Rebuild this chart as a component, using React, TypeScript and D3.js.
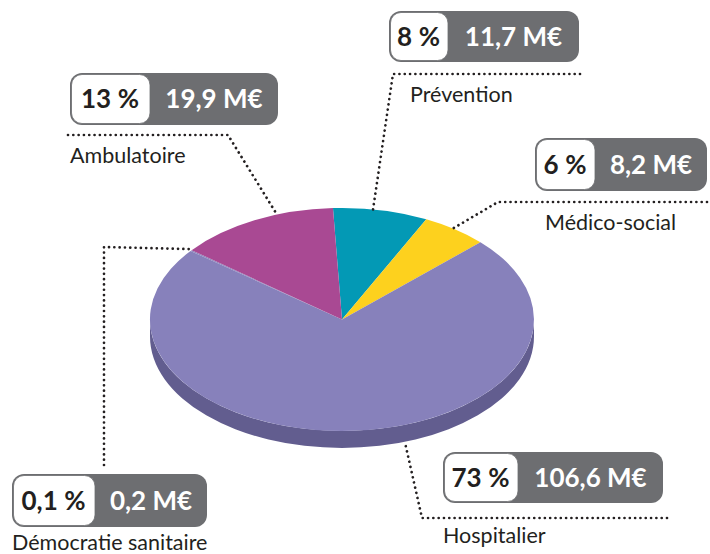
import React from "react";
import * as d3 from "d3";

const categories = ["Prévention", "Médico-social", "Hospitalier", "Démocratie sanitaire", "Ambulatoire"];
const amounts = [11.7, 8.2, 106.6, 0.2, 19.9];
const percentLabels = ["8\u202F%", "6\u202F%", "73\u202F%", "0,1\u202F%", "13\u202F%"];
const amountLabels = ["11,7 M€", "8,2 M€", "106,6 M€", "0,2 M€", "19,9 M€"];

const colors = ["#0399b5", "#fdd11e", "#8781bb", "#8a84bd", "#a94993"];
const sideColors = ["#02708a", "#c9a50f", "#625d8f", "#625d8f", "#7e346d"];

const W = 710, H = 554;
const cx = 342, cy = 319.5, rx = 192, ry = 111.5, depth = 17;
const startDeg = -2.7;

// layout per category: box, split, label, leader
const layout = [
  { box: [389, 11, 190, 51], split: 448, label: [410, 102], leader: [[580, 74], [393, 74]], anchorDeg: 9.3 },
  { box: [535, 138, 172, 53], split: 595, label: [545, 230], leader: [[707, 202], [498, 202]], anchorDeg: 35.3 },
  { box: [443, 452, 220, 51], split: 518, label: [443, 543], leader: [[667, 518], [422, 518]], anchorDeg: 160.9 },
  { box: [12, 474, 195, 53], split: 95, label: [12, 550], leader: [[104, 465], [104, 247]], anchorDeg: -50.9 },
  { box: [70, 73, 208, 52], split: 150, label: [70, 163], leader: [[68, 135], [228, 135]], anchorDeg: -19.8 },
];

const rad = (d: number) => (d * Math.PI) / 180;
const ept = (a: number, dy = 0): [number, number] => [cx + rx * Math.sin(a), cy - ry * Math.cos(a) + dy];

export default function App() {
  const pie = d3
    .pie<number>()
    .sort(null)
    .value((d) => d)
    .startAngle(rad(startDeg))
    .endAngle(rad(startDeg) + 2 * Math.PI);
  const arcs = pie(amounts);
  const arcGen = d3.arc<d3.PieArcDatum<number>>().innerRadius(0).outerRadius(1);

  const sides: { d: string; c: string }[] = [];
  arcs.forEach((a, i) => {
    const ranges: [number, number][] = [];
    for (const off of [0, 2 * Math.PI, -2 * Math.PI]) {
      const s = Math.max(a.startAngle + off, Math.PI / 2);
      const e = Math.min(a.endAngle + off, (3 * Math.PI) / 2);
      if (e > s) ranges.push([s, e]);
    }
    ranges.forEach(([s, e]) => {
      const p0 = ept(s), p1 = ept(e);
      const q1 = ept(e, depth), q0 = ept(s, depth);
      const d = `M${p0[0]},${p0[1]} A${rx},${ry} 0 0 1 ${p1[0]},${p1[1]} L${q1[0]},${q1[1]} A${rx},${ry} 0 0 0 ${q0[0]},${q0[1]} Z`;
      sides.push({ d, c: sideColors[i] });
    });
  });

  const font = "Lato, 'Open Sans', sans-serif";
  const dark = "#231f20";
  const grey = "#6d6e71";

  return (
    <svg width={W} height={H} style={{ position: "absolute", left: 0, top: 0 }} xmlns="http://www.w3.org/2000/svg">
      <rect width={W} height={H} fill="#fff" />
      {sides.map((s, i) => (
        <path key={"s" + i} d={s.d} fill={s.c} />
      ))}
      <g transform={`translate(${cx},${cy}) scale(${rx},${ry})`}>
        {arcs.map((a, i) => (
          <path key={"a" + i} d={arcGen(a) || ""} fill={colors[i]} />
        ))}
      </g>
      {layout.map((l, i) => {
        const a = rad(l.anchorDeg);
        const anchor = ept(a, Math.cos(a) < 0 ? depth : 0);
        const pts = [...l.leader, anchor];
        const line = d3.line()(pts as [number, number][]) || "";
        const [bx, by, bw, bh] = l.box;
        const midY = by + bh / 2;
        return (
          <g key={"l" + i}>
            <path d={line} fill="none" stroke={dark} strokeWidth={2.7} strokeLinecap="round" strokeDasharray="0.01 5.3" />
            <rect x={bx} y={by} width={bw} height={bh} rx={12} fill={grey} />
            <rect x={bx + 1.5} y={by + 1.5} width={l.split - bx - 1.5} height={bh - 3} rx={10.5} fill="#fff" stroke={grey} strokeWidth={0.8} />
            <text x={(bx + l.split) / 2} y={midY + 9.4} textAnchor="middle" fontFamily={font} fontWeight={700} fontSize={26} fill={dark}>
              {percentLabels[i]}
            </text>
            <text x={(l.split + bx + bw) / 2} y={midY + 9.4} textAnchor="middle" fontFamily={font} fontWeight={700} fontSize={26} fill="#fff">
              {amountLabels[i]}
            </text>
            <text x={l.label[0]} y={l.label[1]} fontFamily={font} fontSize={21.5} fill={dark}>
              {categories[i]}
            </text>
          </g>
        );
      })}
    </svg>
  );
}
